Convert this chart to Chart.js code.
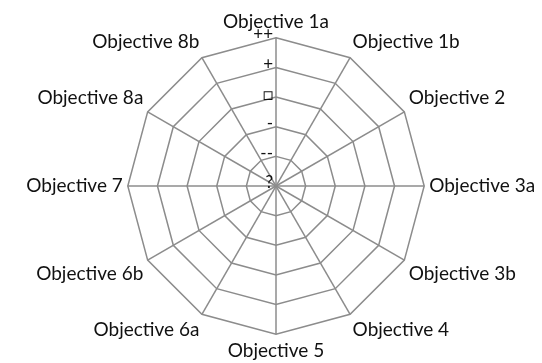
<!DOCTYPE html>
<html>
<head>
<meta charset="utf-8">
<script src="https://cdn.jsdelivr.net/npm/chart.js@4"></script>
<style>
  html, body { margin: 0; padding: 0; background: #fff; }
  #wrap { width: 542px; height: 363px; position: relative; }
</style>
</head>
<body>
<div id="wrap"><canvas id="radar"></canvas></div>
<script>
// axis names around the web
const objectives = [
    "Objective 1a", "Objective 1b", "Objective 2", "Objective 3a",
    "Objective 3b", "Objective 4", "Objective 5", "Objective 6a",
    "Objective 6b", "Objective 7", "Objective 8a", "Objective 8b"
];
// rating scale, center to outside
const tickValues = [0, 1, 2, 3, 4, 5];
const tickLabels = ["?", "--", "-", "\u25A1", "+", "++"];
// no scores filled in yet
const scores = [];

const gridGrey = "#8c8c8c";
const labelFont = "Lato, 'DejaVu Sans', sans-serif";

// tick labels sit left of the vertical axis, like the spreadsheet original
const tickLabelPlugin = {
    id: "tickLabelPlugin",
    afterDraw(chart) {
        const scale = chart.scales.r;
        const ctx = chart.ctx;
        ctx.save();
        ctx.font = "17px " + labelFont;
        ctx.fillStyle = "#111";
        ctx.textAlign = "right";
        ctx.textBaseline = "middle";
        scale.ticks.forEach((tick) => {
            const idx = tickValues.indexOf(tick.value);
            if (idx < 0) return;
            const dist = scale.getDistanceFromCenterForValue(tick.value);
            ctx.fillText(tickLabels[idx], scale.xCenter - 3, scale.yCenter - dist - 3);
        });
        ctx.restore();
    }
};

new Chart(document.getElementById("radar"), {
    type: "radar",
    data: {
        labels: objectives,
        datasets: [{
            label: "Scores",
            data: scores,
            borderColor: "#4472c4",
            pointRadius: 0
        }]
    },
    options: {
        responsive: true,
        maintainAspectRatio: false,
        animation: false,
        layout: { padding: { top: 10, bottom: -6, left: 20, right: 0 } },
        plugins: {
            legend: { display: false },
            tooltip: { enabled: false }
        },
        scales: {
            r: {
                min: 0,
                max: 5,
                ticks: { display: false, stepSize: 1 },
                grid: { color: gridGrey, lineWidth: 1.5 },
                angleLines: { color: gridGrey, lineWidth: 1.5 },
                pointLabels: {
                    color: "#111",
                    padding: 5,
                    font: { family: labelFont, size: 19 }
                }
            }
        }
    },
    plugins: [tickLabelPlugin]
});
</script>
</body>
</html>
